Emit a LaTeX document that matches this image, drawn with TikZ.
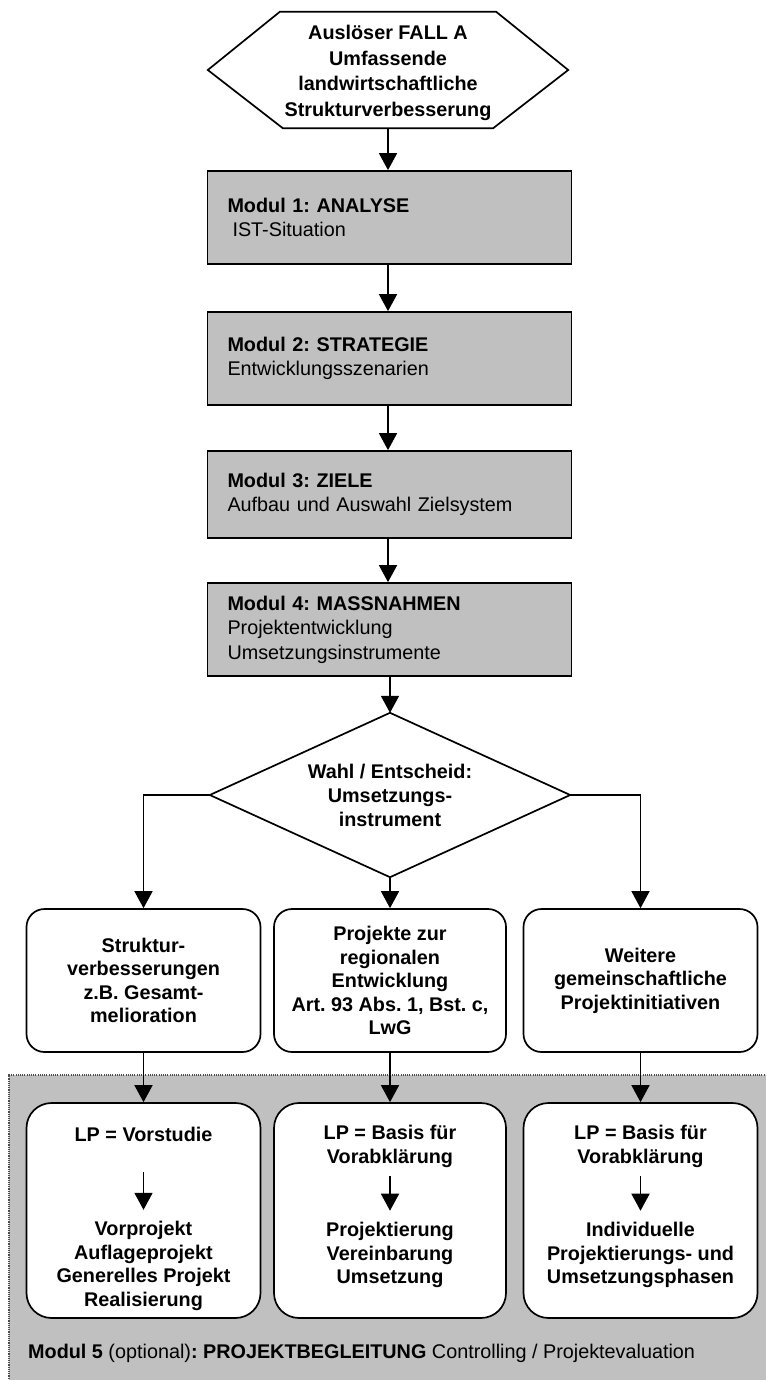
\documentclass[tikz,border=0pt]{standalone}
\usepackage{fontspec}
\setmainfont{Liberation Sans}
\usetikzlibrary{arrows.meta,calc}
\definecolor{modgray}{RGB}{192,192,192}
\frenchspacing
\begin{document}
\begin{tikzpicture}[x=1pt,y=-1pt,
  every node/.style={font=\fontsize{19.8}{24.5}\selectfont, inner sep=0pt},
  outline/.style={draw, line width=1.7pt},
  link/.style={line width=1.6pt, -{Triangle[width=18pt,length=17pt]}},
  modbox/.style={outline, fill=modgray, minimum width=364pt, text width=324pt,
    align=left, inner xsep=20pt},
  optbox/.style={outline, fill=white, rounded corners=18pt, minimum width=234pt,
    minimum height=143pt, align=center,
    font=\bfseries\fontsize{19.8}{23.5}\selectfont},
  stagebox/.style={outline, fill=white, rounded corners=25pt, minimum width=234pt,
    minimum height=215pt},
  stagetext/.style={align=center, font=\bfseries\fontsize{19.8}{23.8}\selectfont},
  shapetext/.style={align=center}
]
\useasboundingbox (0,0) rectangle (765,1380);

% shaded area of module 5
\fill[modgray] (9,1075) rectangle (780,1395);
\draw[black!70, line width=1.1pt, dash pattern=on 1.1pt off 1.1pt]
  (780,1075) -- (9,1075) -- (9,1395);

% trigger hexagon
\node[shapetext, minimum width=360pt, minimum height=116pt,
  font=\bfseries\fontsize{19.8}{25.5}\selectfont] (trig) at (388,70) {};
\node[shapetext, font=\bfseries\fontsize{19.8}{25.5}\selectfont] (trigtext) at (388,73)
  {Auslöser FALL A\\Umfassende\\landwirtschaftliche\\Strukturverbesserung};
\draw[line width=1.7pt] (trig.west) -- ($(trig.north west)+(72,0)$)
  -- ($(trig.north east)+(-72,0)$) -- (trig.east)
  -- ($(trig.south east)+(-75,0)$) -- ($(trig.south west)+(75,0)$) -- cycle;

% modules 1 to 4
\node[modbox, minimum height=93pt] (m1) at (389.5,217.5)
  {\textbf{Modul 1: ANALYSE}\\\hspace*{5pt}IST-Situation};
\node[modbox, minimum height=93pt] (m2) at (389.5,358.5)
  {\textbf{Modul 2: STRATEGIE}\\Entwicklungsszenarien};
\node[modbox, minimum height=87pt] (m3) at (389.5,494.5)
  {\textbf{Modul 3: ZIELE}\\Aufbau und Auswahl Zielsystem};
\node[modbox, minimum height=93pt] (m4) at (389.5,629.5)
  {\textbf{Modul 4: MASSNAHMEN}\\Projektentwicklung\\Umsetzungsinstrumente};

% decision diamond
\node[shapetext, minimum width=360pt, minimum height=164pt,
  font=\bfseries\fontsize{19.8}{24}\selectfont] (choice) at (390,795)
  {Wahl / Entscheid:\\Umsetzungs-\\instrument};
\draw[line width=1.7pt] (choice.north) -- (choice.east) -- (choice.south)
  -- (choice.west) -- cycle;

% instruments
\node[optbox] (optA) at (143.5,980.5)
  {Struktur-\\verbesserungen\\z.B. Gesamt-\\melioration};
\node[optbox, minimum width=232pt] (optB) at (390,980.5)
  {Projekte zur\\regionalen\\Entwicklung\\Art. 93 Abs. 1, Bst. c,\\LwG};
\node[optbox] (optC) at (640.5,980.5)
  {Weitere\\gemeinschaftliche\\Projektinitiativen};

% project stages
\node[stagebox] (stA) at (143.5,1210.5) {};
\node[stagebox, minimum width=232pt] (stB) at (390,1210.5) {};
\node[stagebox] (stC) at (640.5,1210.5) {};

\node[stagetext] (lpA) at (143.5,1134) {LP = Vorstudie};
\node[stagetext] (lpB) at (390,1146.5) {LP = Basis für\\Vorabklärung};
\node[stagetext] (lpC) at (640.5,1146.5) {LP = Basis für\\Vorabklärung};
\coordinate (sA) at (143.5,1172);
\coordinate (sB) at (390,1176);
\coordinate (sC) at (640.5,1176);
\node[stagetext] (resA) at (143.5,1266)
  {Vorprojekt\\Auflageprojekt\\Generelles Projekt\\Realisierung};
\node[stagetext] (resB) at (390,1255)
  {Projektierung\\Vereinbarung\\Umsetzung};
\node[stagetext] (resC) at (640.5,1255)
  {Individuelle\\Projektierungs- und\\Umsetzungsphasen};

\node[anchor=west] (m5) at (28,1353)
  {\textbf{Modul 5} (optional)\textbf{: PROJEKTBEGLEITUNG} Controlling / Projektevaluation};

% connectors
\draw[link] (trig.south) -- (m1.north -| trig.south);
\draw[link] (m1.south -| trig.south) -- (m2.north -| trig.south);
\draw[link] (m2.south -| trig.south) -- (m3.north -| trig.south);
\draw[link] (m3.south -| trig.south) -- (m4.north -| trig.south);
\draw[link] (m4.south -| choice.north) -- (choice.north);
\draw[link] (choice.west) -| (optA.north);
\draw[link] (choice.south) -- (optB.north);
\draw[link] (choice.east) -| (optC.north);
\draw[link] (optA.south) -- (stA.north);
\draw[link] (optB.south) -- (stB.north);
\draw[link] (optC.south) -- (stC.north);
\draw[link, shorten >=11pt] (sA) -- (resA.north);
\draw[link, shorten >=11pt] (sB) -- (resB.north);
\draw[link, shorten >=11pt] (sC) -- (resC.north);
\end{tikzpicture}
\end{document}
